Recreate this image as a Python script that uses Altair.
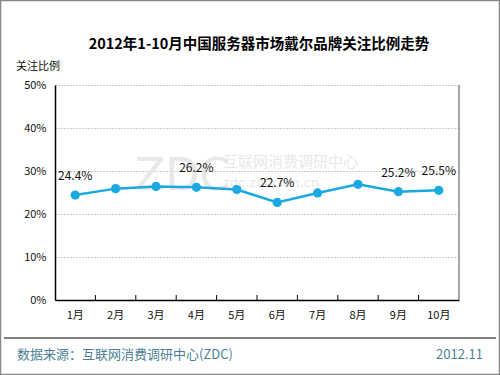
import altair as alt
import pandas as pd

months = ["1月", "2月", "3月", "4月", "5月", "6月", "7月", "8月", "9月", "10月"]
values = [24.4, 25.9, 26.4, 26.2, 25.7, 22.7, 24.9, 26.9, 25.2, 25.5]
labels = ["24.4%", "", "", "26.2%", "", "22.7%", "", "", "25.2%", "25.5%"]

df = pd.DataFrame({"month": months, "value": [v / 100 for v in values], "label": labels})

FONT = "Noto Sans CJK SC"
W, H = 404, 215
LINE = "#1BA9E1"

x_enc = alt.X("month:N", sort=months, title=None,
              scale=alt.Scale(paddingInner=0, paddingOuter=0),
              axis=alt.Axis(labelAngle=0, ticks=False, domainColor="#000", domainWidth=1.5,
                            labelFont=FONT, labelFontSize=11, labelColor="#111",
                            labelPadding=9, grid=False))
y_enc = alt.Y("value:Q", title=None,
              scale=alt.Scale(domain=[0, 0.5], nice=False),
              axis=alt.Axis(values=[0, 0.1, 0.2, 0.3, 0.4, 0.5], format=".0%", ticks=False,
                            domainColor="#000", domainWidth=1.5, labelFont=FONT,
                            labelFontSize=11, labelColor="#111", labelPadding=9,
                            grid=True, gridColor="#999", gridDash=[1, 2], gridWidth=1))

base = alt.Chart(df)

line = base.mark_line(color=LINE, strokeWidth=2.5).encode(x=x_enc, y=y_enc)
pts = base.mark_circle(color=LINE, size=85, opacity=1).encode(
    x=alt.X("month:N", sort=months), y="value:Q")
txt = base.mark_text(font=FONT, fontSize=12, color="#111", dy=-19, baseline="middle").encode(
    x=alt.X("month:N", sort=months), y="value:Q", text="label:N")

xticks = base.transform_filter(alt.datum.month != "1月").mark_rule(color="#000", strokeWidth=1).encode(
    x=alt.X("month:N", sort=months, bandPosition=0),
    y=alt.value(H), y2=alt.value(H - 5))

right_border = alt.Chart(pd.DataFrame({"a": [0]})).mark_rule(color="#888", strokeWidth=1.5).encode(
    x=alt.value(W), y=alt.value(0), y2=alt.value(H))

deco = pd.DataFrame({"a": [0]})
wm1 = alt.Chart(deco).mark_text(text="ZDC", font="DejaVu Sans", fontSize=44, color="#e8e8e8",
                                align="left", baseline="alphabetic").encode(
    x=alt.value(80), y=alt.value(105))
wm2 = alt.Chart(deco).mark_text(text="互联网消费调研中心", font=FONT, fontSize=15, color="#e8e8e8",
                                align="left", baseline="middle").encode(
    x=alt.value(168), y=alt.value(77))
wm3 = alt.Chart(deco).mark_text(text="zdc.zol.com.cn", font="DejaVu Sans", fontSize=13, color="#e8e8e8",
                                align="left", baseline="middle").encode(
    x=alt.value(168), y=alt.value(98))

title = alt.Chart(deco).mark_text(text="2012年1-10月中国服务器市场戴尔品牌关注比例走势", font=FONT,
                                  fontSize=14.5, fontWeight="bold", color="#000",
                                  align="center", baseline="alphabetic").encode(
    x=alt.value(204), y=alt.value(-36))
ytitle = alt.Chart(deco).mark_text(text="关注比例", font=FONT, fontSize=11, color="#111",
                                   align="left", baseline="middle").encode(
    x=alt.value(-39), y=alt.value(-18))
footer_line = alt.Chart(deco).mark_rule(color="#000", strokeWidth=1).encode(
    x=alt.value(-51), x2=alt.value(441), y=alt.value(253))
src = alt.Chart(deco).mark_text(text="数据来源：互联网消费调研中心(ZDC)", font=FONT, fontSize=13,
                                color="#4C7F95", align="left", baseline="middle").encode(
    x=alt.value(-38), y=alt.value(270))
date = alt.Chart(deco).mark_text(text="2012.11", font=FONT, fontSize=13, color="#4C7F95",
                                 align="right", baseline="middle").encode(
    x=alt.value(428), y=alt.value(270))
border = alt.Chart(deco).mark_rect(fill=None, stroke="#888", strokeWidth=1.5).encode(
    x=alt.value(-54.5), y=alt.value(-84.5), x2=alt.value(444.5), y2=alt.value(289.5))

chart = alt.layer(
    wm1, wm2, wm3, line, pts, txt, xticks, right_border,
    title, ytitle, footer_line, src, date, border
).properties(
    width=W, height=H,
    autosize=alt.AutoSizeParams(type="none"),
    padding={"left": 55, "top": 85, "right": 41, "bottom": 75},
    background="white",
).configure_view(stroke=None)

chart.save("out.html", embed_options={"renderer": "svg", "actions": False})
